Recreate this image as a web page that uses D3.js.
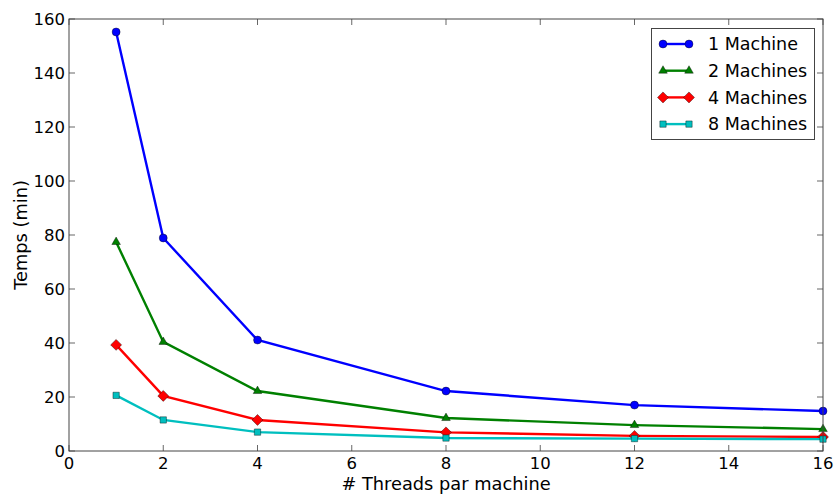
<!DOCTYPE html>
<html><head><meta charset="utf-8">
<script src="https://cdn.jsdelivr.net/npm/d3@7"></script>
<style>body{margin:0;background:#fff}svg{display:block}text{font-family:"DejaVu Sans",sans-serif;fill:#000}</style>
</head><body><svg id="c" width="835" height="494"></svg>
<script>
const threads = [1, 2, 4, 8, 12, 16];
const seriesNames = ["1 Machine", "2 Machines", "4 Machines", "8 Machines"];
const m1 = [155.2, 78.9, 41.1, 22.2, 17.0, 14.8];
const m2 = [77.4, 40.4, 22.2, 12.2, 9.6, 8.1];
const m4 = [39.3, 20.4, 11.5, 6.9, 5.6, 5.2];
const m8 = [20.6, 11.5, 7.0, 4.8, 4.6, 4.4];
const xTicks = [0, 2, 4, 6, 8, 10, 12, 14, 16];
const yTicks = [0, 20, 40, 60, 80, 100, 120, 140, 160];
const colors = ["#0000ff", "#008000", "#ff0000", "#00bfbf"];
const diamond = { draw(ctx, size) { const r = Math.sqrt(size / 2); ctx.moveTo(0, -r); ctx.lineTo(r, 0); ctx.lineTo(0, r); ctx.lineTo(-r, 0); ctx.closePath(); } };
const shapes = [d3.symbolCircle, d3.symbolTriangle, diamond, d3.symbolSquare];
const sizes = [50, 32, 60, 40];
const allSeries = [m1, m2, m4, m8];

const svg = d3.select("#c");
const L = 69, T = 19, R = 823, B = 451;
const x = d3.scaleLinear().domain([0, 16]).range([L, R]);
const y = d3.scaleLinear().domain([0, 160]).range([B, T]);

const g = svg.append("g");
xTicks.forEach(t => {
  g.append("line").attr("x1", x(t)).attr("x2", x(t)).attr("y1", B).attr("y2", B - 6).attr("stroke", "#000").attr("stroke-width", 0.6);
  g.append("line").attr("x1", x(t)).attr("x2", x(t)).attr("y1", T).attr("y2", T + 6).attr("stroke", "#000").attr("stroke-width", 0.6);
  g.append("text").attr("x", x(t)).attr("y", B + 18).attr("text-anchor", "middle").attr("font-size", 16.5).text(t);
});
yTicks.forEach(t => {
  g.append("line").attr("x1", L).attr("x2", L + 6).attr("y1", y(t)).attr("y2", y(t)).attr("stroke", "#000").attr("stroke-width", 0.6);
  g.append("line").attr("x1", R).attr("x2", R - 6).attr("y1", y(t)).attr("y2", y(t)).attr("stroke", "#000").attr("stroke-width", 0.6);
  g.append("text").attr("x", L - 4).attr("y", y(t)).attr("dy", "0.35em").attr("text-anchor", "end").attr("font-size", 16.5).text(t);
});

const line = d3.line().x((d, i) => x(threads[i])).y(d => y(d));
allSeries.forEach((s, k) => {
  svg.append("path").datum(s).attr("d", line).attr("fill", "none").attr("stroke", colors[k]).attr("stroke-width", 2.4);
  svg.selectAll(null).data(s).enter().append("path")
    .attr("transform", (d, i) => `translate(${x(threads[i])},${y(d)})`)
    .attr("d", d3.symbol().type(shapes[k]).size(sizes[k]))
    .attr("fill", colors[k]).attr("stroke", "#000").attr("stroke-width", 0.4);
});

svg.append("rect").attr("x", L).attr("y", T).attr("width", R - L).attr("height", B - T)
  .attr("fill", "none").attr("stroke", "#444").attr("stroke-width", 1);

svg.append("text").attr("x", (L + R) / 2).attr("y", 490).attr("text-anchor", "middle").attr("font-size", 17.8).text("# Threads par machine");
svg.append("text").attr("transform", `translate(27,${(T + B) / 2}) rotate(-90)`).attr("text-anchor", "middle").attr("font-size", 17.8).text("Temps (min)");

const lg = svg.append("g");
lg.append("rect").attr("x", 651.5).attr("y", 28.5).attr("width", 163).attr("height", 111).attr("fill", "#fff").attr("stroke", "#444").attr("stroke-width", 1);
seriesNames.forEach((n, k) => {
  const yy = 44 + k * 26.7;
  lg.append("line").attr("x1", 663).attr("x2", 689).attr("y1", yy).attr("y2", yy).attr("stroke", colors[k]).attr("stroke-width", 2.4);
  [663, 689].forEach(xx => lg.append("path").attr("transform", `translate(${xx},${yy})`)
    .attr("d", d3.symbol().type(shapes[k]).size(sizes[k])).attr("fill", colors[k]).attr("stroke", "#000").attr("stroke-width", 0.4));
  lg.append("text").attr("x", 708).attr("y", yy).attr("dy", "0.35em").attr("font-size", 17.5).text(n);
});
</script></body></html>
